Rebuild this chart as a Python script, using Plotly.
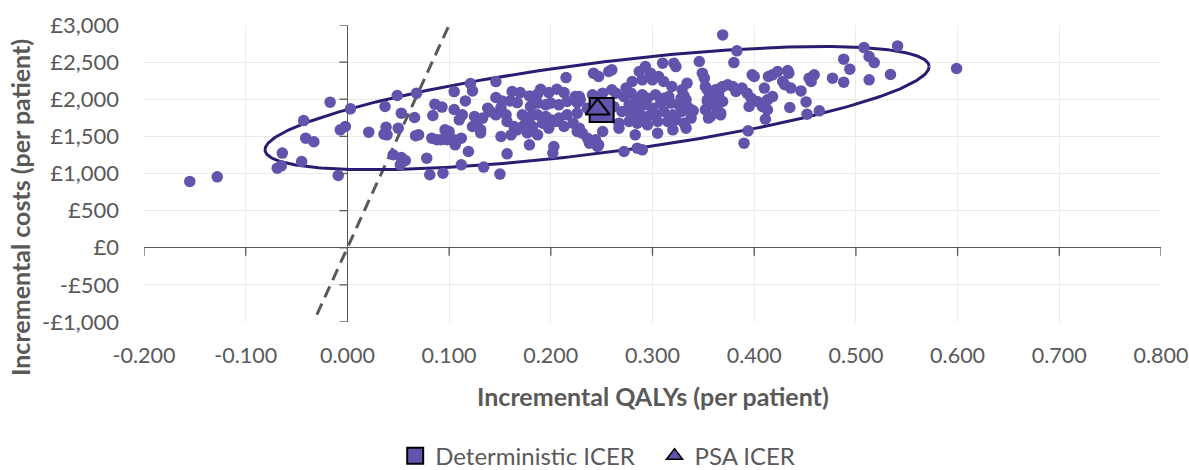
import numpy as np
import plotly.graph_objects as go

# ---------------- data ----------------
psa_qalys = [
    -0.155, -0.128, -0.017, 0.003, -0.043, -0.007, -0.002, -0.041, -0.033, -0.064,
    -0.045, -0.069, -0.065, -0.009, 0.021, 0.037, 0.049, 0.068, 0.053, 0.066,
    0.084, 0.086, 0.038, 0.036, 0.039, 0.050, 0.067, 0.070, 0.083, 0.088,
    0.045, 0.053, 0.057, 0.052, 0.078, 0.081, 0.093, 0.097, 0.100, 0.094,
    0.215, 0.146, 0.121, 0.123, 0.105, 0.116, 0.105, 0.113, 0.110, 0.125,
    0.128, 0.123, 0.131, 0.146, 0.152, 0.151, 0.146, 0.156, 0.157, 0.164,
    0.161, 0.162, 0.170, 0.160, 0.167, 0.133, 0.131, 0.096, 0.092, 0.098,
    0.105, 0.112, 0.106, 0.151, 0.119, 0.157, 0.179, 0.203, 0.202, 0.112,
    0.134, 0.150, 0.179, 0.187, 0.190, 0.198, 0.206, 0.213, 0.180, 0.187,
    0.195, 0.200, 0.208, 0.216, 0.224, 0.172, 0.180, 0.187, 0.195, 0.200,
    0.208, 0.216, 0.226, 0.174, 0.182, 0.192, 0.198, 0.205, 0.213, 0.222,
    0.226, 0.167, 0.177, 0.187, 0.138, 0.141,
    0.346, 0.310, 0.323, 0.321, 0.293, 0.298, 0.242, 0.247, 0.257, 0.260,
    0.349, 0.351, 0.287, 0.290, 0.300, 0.306, 0.311, 0.280, 0.274, 0.319,
    0.329, 0.334, 0.352, 0.356, 0.362, 0.369, 0.365, 0.359, 0.369, 0.354,
    0.362, 0.367, 0.352, 0.357, 0.228, 0.229, 0.226, 0.260, 0.264, 0.241,
    0.251, 0.272, 0.279, 0.284, 0.290, 0.295, 0.303, 0.311, 0.316, 0.277,
    0.285, 0.292, 0.300, 0.308, 0.318, 0.326, 0.333, 0.270, 0.279, 0.287,
    0.295, 0.303, 0.311, 0.320, 0.329, 0.338, 0.338, 0.267, 0.277, 0.285,
    0.293, 0.305, 0.315, 0.323, 0.331, 0.267, 0.295, 0.305, 0.320, 0.333,
    0.251, 0.228, 0.231, 0.236, 0.238, 0.244, 0.247, 0.246, 0.283, 0.272,
    0.285, 0.290, 0.331, 0.328, 0.335, 0.340, 0.236, 0.255, 0.262,
    0.369, 0.383, 0.380, 0.508, 0.541, 0.488, 0.494, 0.513, 0.518, 0.599,
    0.534, 0.513, 0.488, 0.477, 0.454, 0.459, 0.456, 0.446, 0.451, 0.435,
    0.452, 0.464, 0.433, 0.434, 0.423, 0.418, 0.414, 0.400, 0.398, 0.428,
    0.430, 0.436, 0.410, 0.418, 0.413, 0.408, 0.413, 0.403, 0.395, 0.411,
    0.388, 0.393, 0.397, 0.374, 0.379, 0.382, 0.367, 0.354, 0.354, 0.362,
    0.365, 0.367, 0.355, 0.394, 0.390,
]
psa_costs = [
    893, 955, 1961, 1871, 1713, 1588, 1633, 1476, 1427, 1275,
    1162, 1072, 1103, 973, 1557, 1902, 2050, 2082, 1813, 1754,
    1781, 1934, 1624, 1530, 1521, 1611, 1508, 1521, 1476, 1454,
    1252, 1215, 1175, 1117, 1207, 983, 1894, 1463, 1565, 1005,
    2292, 2238, 2211, 2112, 2103, 1978, 1862, 1790, 1723, 1767,
    1700, 1633, 1588, 2023, 1978, 1889, 1790, 1790, 1700, 1633,
    1521, 2104, 2090, 1978, 1955, 1746, 1548, 1588, 1454, 1454,
    1454, 1476, 1386, 1499, 1296, 1265, 1386, 1364, 1275, 1117,
    1086, 992, 2045, 2068, 2135, 2090, 2135, 2090, 1902, 1948,
    1925, 1948, 1925, 1969, 2036, 1790, 1767, 1790, 1767, 1723,
    1746, 1790, 1813, 1655, 1633, 1678, 1611, 1700, 1633, 1678,
    1565, 1588, 1548, 1521, 1880, 1830,
    2508, 2486, 2440, 2486, 2440, 2351, 2351, 2306, 2374, 2396,
    2351, 2284, 2373, 2261, 2261, 2306, 2239, 2239, 2150, 2172,
    2128, 2217, 2172, 2082, 2128, 2172, 2060, 2014, 1969, 1992,
    1902, 1813, 1858, 1767, 2036, 1992, 1955, 2128, 2082, 2060,
    2082, 2036, 2082, 2014, 2060, 2014, 2060, 2014, 2036, 1925,
    1902, 1925, 1880, 1948, 1948, 1925, 1992, 1835, 1790, 1813,
    1767, 1790, 1835, 1790, 1835, 1858, 1746, 1678, 1700, 1678,
    1723, 1700, 1700, 1723, 1678, 1611, 1655, 1543, 1588, 1611,
    1565, 1611, 1543, 1476, 1409, 1454, 1386, 1364, 1521, 1296,
    1341, 1319, 2046, 2010, 1889, 1844, 1880, 1830, 1900,
    2867, 2652, 2494, 2696, 2718, 2540, 2405, 2576, 2494, 2414,
    2333, 2261, 2230, 2284, 2284, 2329, 2239, 2112, 1964, 1889,
    1799, 1844, 2387, 2351, 2373, 2329, 2306, 2306, 2329, 2239,
    2195, 2150, 2150, 2036, 1992, 1902, 1858, 1969, 1902, 1731,
    2150, 2082, 2014, 2195, 2172, 2104, 2150, 2128, 1969, 1925,
    1835, 1790, 1746, 1575, 1409,
]

det_icer_qaly = [0.250]
det_icer_cost = [1855]
psa_icer_qaly = [0.246]
psa_icer_cost = [1865]

wtp_threshold = 30000          # £ per QALY
wtp_x_range = [-0.03, 0.10]

# confidence ellipse parameters (data units)
ell_center = (0.2455, 1880)
ell_half_width = 0.3265
ell_tilt = 560
ell_half_height = 612

x_tickvals = [-0.2, -0.1, 0.0, 0.1, 0.2, 0.3, 0.4, 0.5, 0.6, 0.7, 0.8]
x_ticktext = ["-0.200", "-0.100", "0.000", "0.100", "0.200", "0.300",
              "0.400", "0.500", "0.600", "0.700", "0.800"]
y_tickvals = [-1000, -500, 0, 500, 1000, 1500, 2000, 2500, 3000]
y_ticktext = ["-£1,000", "-£500", "£0", "£500", "£1,000", "£1,500",
              "£2,000", "£2,500", "£3,000"]

# ---------------- styling ----------------
FONT = "Lato"
TEXT = "#595959"
PURPLE = "#6353AC"
DARK = "#2D1B72"

fig = go.Figure()

# WTP line
wx = np.array(wtp_x_range)
fig.add_trace(go.Scatter(x=wx, y=wx * wtp_threshold, mode="lines",
                         line=dict(color="#595959", width=3, dash="12px,7px"),
                         showlegend=False, hoverinfo="skip"))

# ellipse
t = np.linspace(0, 2 * np.pi, 400)
ex = ell_center[0] + ell_half_width * np.cos(t)
ey = ell_center[1] + ell_tilt * np.cos(t) + ell_half_height * np.sin(t)
fig.add_trace(go.Scatter(x=ex, y=ey, mode="lines",
                         line=dict(color=DARK, width=3),
                         showlegend=False, hoverinfo="skip"))

# PSA points
fig.add_trace(go.Scatter(x=psa_qalys, y=psa_costs, mode="markers",
                         marker=dict(color=PURPLE, size=11.5),
                         showlegend=False))

# ICERs on plot
fig.add_trace(go.Scatter(x=det_icer_qaly, y=det_icer_cost, mode="markers",
                         marker=dict(symbol="square", size=24, color=PURPLE,
                                     line=dict(color="black", width=2)),
                         showlegend=False))
fig.add_trace(go.Scatter(x=psa_icer_qaly, y=psa_icer_cost, mode="markers",
                         marker=dict(symbol="triangle-up", size=21, color=PURPLE,
                                     line=dict(color="black", width=2)),
                         showlegend=False))
# legend entries
fig.add_trace(go.Scatter(x=[None], y=[None], mode="markers", name="Deterministic ICER",
                         legend="legend",
                         marker=dict(symbol="square", size=16, color=PURPLE,
                                     line=dict(color="black", width=2))))
fig.add_trace(go.Scatter(x=[None], y=[None], mode="markers", name="PSA ICER",
                         legend="legend2",
                         marker=dict(symbol="triangle-up", size=14, color=PURPLE,
                                     line=dict(color="black", width=1.5))))

# tick marks on the zero axes
shapes = []
for xv in x_tickvals:
    shapes.append(dict(type="line", xref="x", yref="y", x0=xv, x1=xv,
                       ysizemode="pixel", yanchor=0, y0=0, y1=-8,
                       line=dict(color="#595959", width=1.3)))
for yv in y_tickvals:
    shapes.append(dict(type="line", xref="x", yref="y", y0=yv, y1=yv,
                       xsizemode="pixel", xanchor=0, x0=-8, x1=0,
                       line=dict(color="#595959", width=1.3)))

legend_common = dict(orientation="h", xanchor="left", y=-0.452, yanchor="middle",
                     font=dict(size=24, color=TEXT), itemsizing="trace",
                     bgcolor="rgba(0,0,0,0)")

fig.update_layout(
    width=1189, height=470,
    margin=dict(l=144, r=28, t=25, b=148, autoexpand=False),
    paper_bgcolor="white", plot_bgcolor="white",
    font=dict(family=FONT, color=TEXT, size=21),
    shapes=shapes,
    showlegend=True,
    legend=dict(x=0.2470, **legend_common),
    legend2=dict(x=0.5020, **legend_common),
    annotations=[
        dict(text="<b>Incremental QALYs (per patient)</b>", xref="paper", yref="paper",
             x=0.5, y=-0.249, xanchor="center", yanchor="middle", showarrow=False,
             font=dict(size=25, color=TEXT, family=FONT)),
        dict(text="<b>Incremental costs (per patient)</b>", xref="paper", yref="paper",
             x=-0.122, y=0.387, xanchor="center", yanchor="middle", showarrow=False,
             textangle=-90, font=dict(size=25, color=TEXT, family=FONT)),
    ],
)
fig.update_xaxes(range=[-0.2, 0.8], tickvals=x_tickvals, ticktext=x_ticktext,
                 showgrid=True, gridcolor="#EBEBEB", gridwidth=1,
                 zeroline=True, zerolinecolor="#595959", zerolinewidth=1.3,
                 showline=False, ticks="", ticklabelstandoff=18, automargin=False,
                 ticklabeloverflow="allow",
                 tickfont=dict(size=21.5, color=TEXT))
fig.update_yaxes(range=[-1000, 3000], tickvals=y_tickvals, ticktext=y_ticktext,
                 showgrid=True, gridcolor="#EBEBEB", gridwidth=1,
                 zeroline=True, zerolinecolor="#595959", zerolinewidth=1.3,
                 showline=False, ticks="", ticklabelstandoff=24, automargin=False,
                 ticklabeloverflow="allow",
                 tickfont=dict(size=22, color=TEXT))

fig.write_html("out.html", config={"displayModeBar": False},
               post_script="document.body.style.margin='0';document.body.style.overflow='hidden';")
